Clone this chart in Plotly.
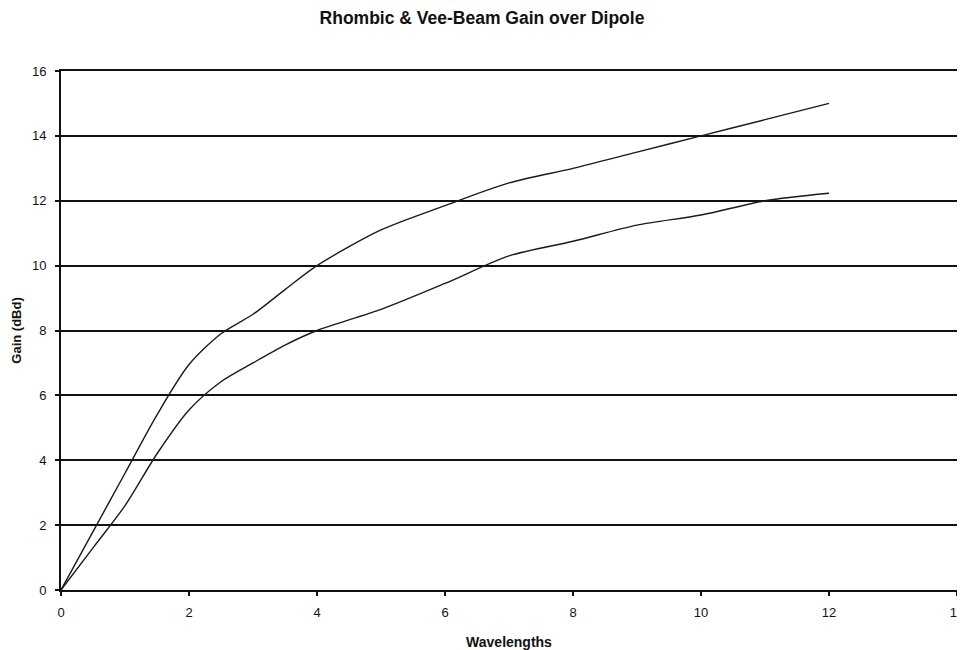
import plotly.graph_objects as go

wavelengths = [0, 0.5, 1, 1.5, 2, 2.5, 3, 3.5, 4, 5, 6, 7, 8, 9, 10, 11, 12]
rhombic_gain = [0, 1.8, 3.6, 5.4, 6.95, 7.9, 8.5, 9.26, 10.0, 11.1, 11.85, 12.55, 13.0, 13.5, 14.0, 14.5, 15.0]
vee_gain = [0, 1.3, 2.6, 4.2, 5.55, 6.42, 7.0, 7.55, 8.0, 8.65, 9.45, 10.3, 10.75, 11.25, 11.56, 12.0, 12.23]
x_ticks = [0, 2, 4, 6, 8, 10, 12, 14]
y_ticks = [0, 2, 4, 6, 8, 10, 12, 14, 16]

fig = go.Figure()
for name, ys in [("Rhombic", rhombic_gain), ("Vee-Beam", vee_gain)]:
    fig.add_trace(go.Scatter(x=wavelengths, y=ys, mode="lines", name=name,
                             line=dict(color="#1a1a1a", width=1.4, shape="spline", smoothing=0.8)))

# The page body has an 8px margin, so the figure is sized/offset to compensate.
W, H = 957, 642
font = "Liberation Sans, Arial, sans-serif"
fig.update_layout(
    width=W, height=H,
    margin=dict(l=53, r=8, t=63, b=60),
    paper_bgcolor="white", plot_bgcolor="white",
    showlegend=False,
    title=dict(text="<b>Rhombic & Vee-Beam Gain over Dipole</b>", x=(482 - 8) / W, xanchor="center",
               y=1 - 10 / H, yanchor="middle", font=dict(family=font, size=17.5, color="#111")),
    font=dict(family=font, size=13, color="#111"),
)
fig.update_xaxes(range=[0, 14], tickvals=x_ticks, showgrid=False, zeroline=False, automargin=False,
                 showline=True, mirror=True, linecolor="#111", linewidth=2, ticks="outside", ticklen=4,
                 tickcolor="#111", tickwidth=1.5, ticklabelstandoff=5,
                 title=dict(text="<b>Wavelengths</b>", font=dict(family=font, size=14), standoff=19))
fig.update_yaxes(range=[0, 16], tickvals=y_ticks, showgrid=True, gridcolor="#111", gridwidth=2,
                 zeroline=False, showline=True, linecolor="#111", linewidth=2, ticks="outside",
                 ticklen=4, tickcolor="#111", tickwidth=1.5, automargin=False, ticklabelstandoff=6,
                 title=dict(text="<b>Gain (dBd)</b>", font=dict(family=font, size=13), standoff=7))

fig.write_html("out.html")
